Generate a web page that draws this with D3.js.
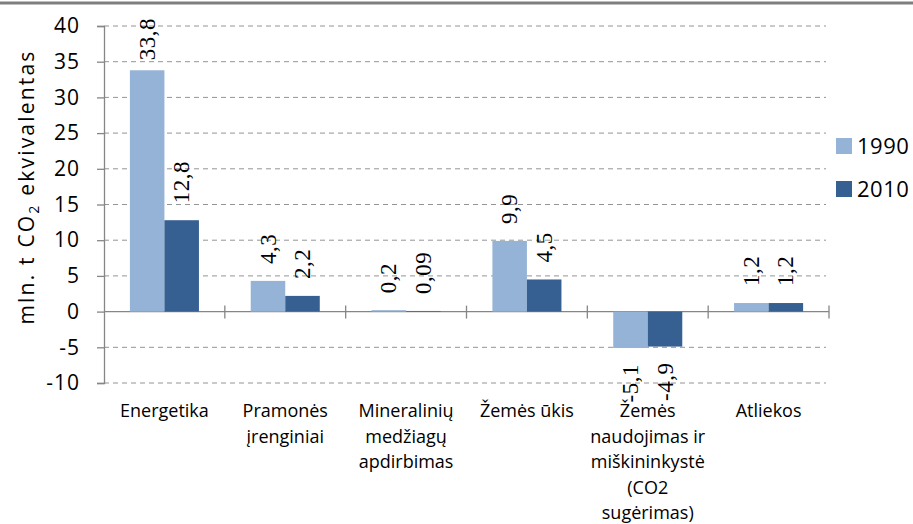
<!DOCTYPE html>
<html>
<head>
<meta charset="utf-8">
<script src="https://d3js.org/d3.v7.min.js"></script>
<style>
  body { margin: 0; background: #ffffff; }
</style>
</head>
<body>
<div id="chart"></div>
<script>
// Greenhouse gas emissions by sector, 1990 vs 2010

// Step 1: data
//=================================
var categories = [
  "Energetika",
  "Pramonės\nįrenginiai",
  "Mineralinių\nmedžiagų\napdirbimas",
  "Žemės ūkis",
  "Žemės\nnaudojimas ir\nmiškininkystė\n(CO2\nsugėrimas)",
  "Atliekos"
];
var seriesNames = ["1990", "2010"];
var values1990 = [33.8, 4.3, 0.2, 9.9, -5.1, 1.2];
var values2010 = [12.8, 2.2, 0.09, 4.5, -4.9, 1.2];
var labels1990 = ["33,8", "4,3", "0,2", "9,9", "-5,1", "1,2"];
var labels2010 = ["12,8", "2,2", "0,09", "4,5", "-4,9", "1,2"];
var yTicks = [-10, -5, 0, 5, 10, 15, 20, 25, 30, 35, 40];
var colors = ["#95b3d7", "#376092"];

var sansFont = "'Open Sans', sans-serif";
var serifFont = "'Liberation Serif', 'DejaVu Serif', serif";

// Step 2: set up the chart
//=================================
var svgWidth = 913;
var svgHeight = 524;

var plot = { left: 104, right: 829, top: 26, bottom: 383 };

var svg = d3.select("#chart")
  .append("svg")
  .attr("width", svgWidth)
  .attr("height", svgHeight)
  .style("font-family", sansFont);

svg.append("rect")
  .attr("width", svgWidth)
  .attr("height", svgHeight)
  .attr("fill", "#ffffff");

// page rule at the very top of the original document
svg.append("line")
  .attr("x1", 0).attr("x2", svgWidth)
  .attr("y1", 3).attr("y2", 3)
  .attr("stroke", "#7f7f7f")
  .attr("stroke-width", 3);

// Step 3: scales
//=================================
var x = d3.scaleBand()
  .domain(categories)
  .range([plot.left, plot.right])
  .padding(0);

var xSeries = d3.scaleBand()
  .domain(seriesNames)
  .range([0, x.bandwidth()])
  .paddingInner(0)
  .paddingOuter(0.75);

var y = d3.scaleLinear()
  .domain([-10, 40])
  .range([plot.bottom, plot.top]);

// gridlines (dashed)
svg.append("g")
  .selectAll("line")
  .data(yTicks.filter(d => d !== 0))
  .enter()
  .append("line")
  .attr("x1", plot.left)
  .attr("x2", plot.right - 3)
  .attr("y1", d => y(d))
  .attr("y2", d => y(d))
  .attr("stroke", "#949494")
  .attr("stroke-width", 1)
  .attr("stroke-dasharray", "5,4");

// Step 4: axes
//=================================
var yAxis = svg.append("g")
  .attr("transform", `translate(${plot.left},0)`)
  .call(d3.axisLeft(y).tickValues(yTicks).tickSize(7).tickPadding(17).tickFormat(d => String(d)));

yAxis.select(".domain").attr("stroke", "#868686").attr("stroke-width", 1.3);
yAxis.selectAll(".tick line").attr("stroke", "#868686").attr("stroke-width", 1.3);
yAxis.selectAll(".tick text")
  .style("font-family", sansFont)
  .attr("font-size", 21)
  .attr("letter-spacing", 1)
  .attr("fill", "#000");

// x axis line at zero with crossing tick marks at category borders
var xAxis = svg.append("g");
xAxis.append("line")
  .attr("x1", plot.left).attr("x2", plot.right)
  .attr("y1", y(0)).attr("y2", y(0))
  .attr("stroke", "#868686")
  .attr("stroke-width", 1.3);

var borders = categories.map(c => x(c) + x.bandwidth());
xAxis.selectAll(".xtick")
  .data(borders)
  .enter()
  .append("line")
  .attr("class", "xtick")
  .attr("x1", d => d).attr("x2", d => d)
  .attr("y1", y(0) - 6).attr("y2", y(0) + 7)
  .attr("stroke", "#868686")
  .attr("stroke-width", 1.3);

// category labels
var catText = svg.append("g")
  .selectAll("text")
  .data(categories)
  .enter()
  .append("text")
  .attr("text-anchor", "middle")
  .attr("font-size", 18)
  .attr("x", d => x(d) + x.bandwidth() / 2)
  .attr("y", 417);

catText.selectAll("tspan")
  .data(d => d.split("\n"))
  .enter()
  .append("tspan")
  .attr("x", function() { return d3.select(this.parentNode).attr("x"); })
  .attr("dy", (d, i) => i === 0 ? 0 : 25.5)
  .text(d => d);

// y axis title
var yTitle = svg.append("text")
  .attr("transform", "translate(34,187) rotate(-90)")
  .attr("text-anchor", "middle")
  .attr("letter-spacing", 2.2)
  .attr("font-size", 21);
yTitle.append("tspan").text("mln. t CO");
yTitle.append("tspan").attr("font-size", 14).attr("dy", 5).text("2");
yTitle.append("tspan").attr("dy", -5).text(" ekvivalentas");

// Step 5: bars and labels
//=================================
var series = [
  { name: seriesNames[0], values: values1990, labels: labels1990, color: colors[0] },
  { name: seriesNames[1], values: values2010, labels: labels2010, color: colors[1] }
];

series.forEach(function(s) {
  var rows = categories.map((c, i) => ({ cat: c, value: s.values[i], label: s.labels[i] }));

  svg.append("g")
    .selectAll("rect")
    .data(rows)
    .enter()
    .append("rect")
    .attr("x", d => x(d.cat) + xSeries(s.name))
    .attr("width", xSeries.bandwidth())
    .attr("y", d => y(Math.max(0, d.value)))
    .attr("height", d => Math.abs(y(d.value) - y(0)))
    .attr("fill", s.color);

  svg.append("g")
    .selectAll("text")
    .data(rows)
    .enter()
    .append("text")
    .style("font-family", serifFont)
    .attr("font-size", 23)
    .attr("letter-spacing", 0.5)
    .attr("text-anchor", d => d.value >= 0 ? "start" : "end")
    .attr("dy", "0.33em")
    .text(d => d.label)
    .attr("transform", function(d) {
      var cx = x(d.cat) + xSeries(s.name) + xSeries.bandwidth() / 2;
      var len = this.getComputedTextLength();
      var ty;
      if (d.value >= 0) {
        // keep label inside the chart area at the top
        ty = Math.max(y(d.value) - 17, 18 + len);
      } else {
        ty = y(d.value) + 16;
      }
      return `translate(${cx},${ty}) rotate(-90)`;
    });
});

// Step 6: legend
//=================================
var legend = svg.append("g")
  .selectAll("g")
  .data(series)
  .enter()
  .append("g")
  .attr("transform", (d, i) => `translate(836,${146 + i * 43})`);

legend.append("rect")
  .attr("x", 0).attr("y", -8)
  .attr("width", 16).attr("height", 16)
  .attr("fill", d => d.color);

legend.append("text")
  .attr("x", 21)
  .attr("dy", "0.36em")
  .attr("font-size", 22)
  .attr("letter-spacing", 0.5)
  .text(d => d.name);
</script>
</body>
</html>
